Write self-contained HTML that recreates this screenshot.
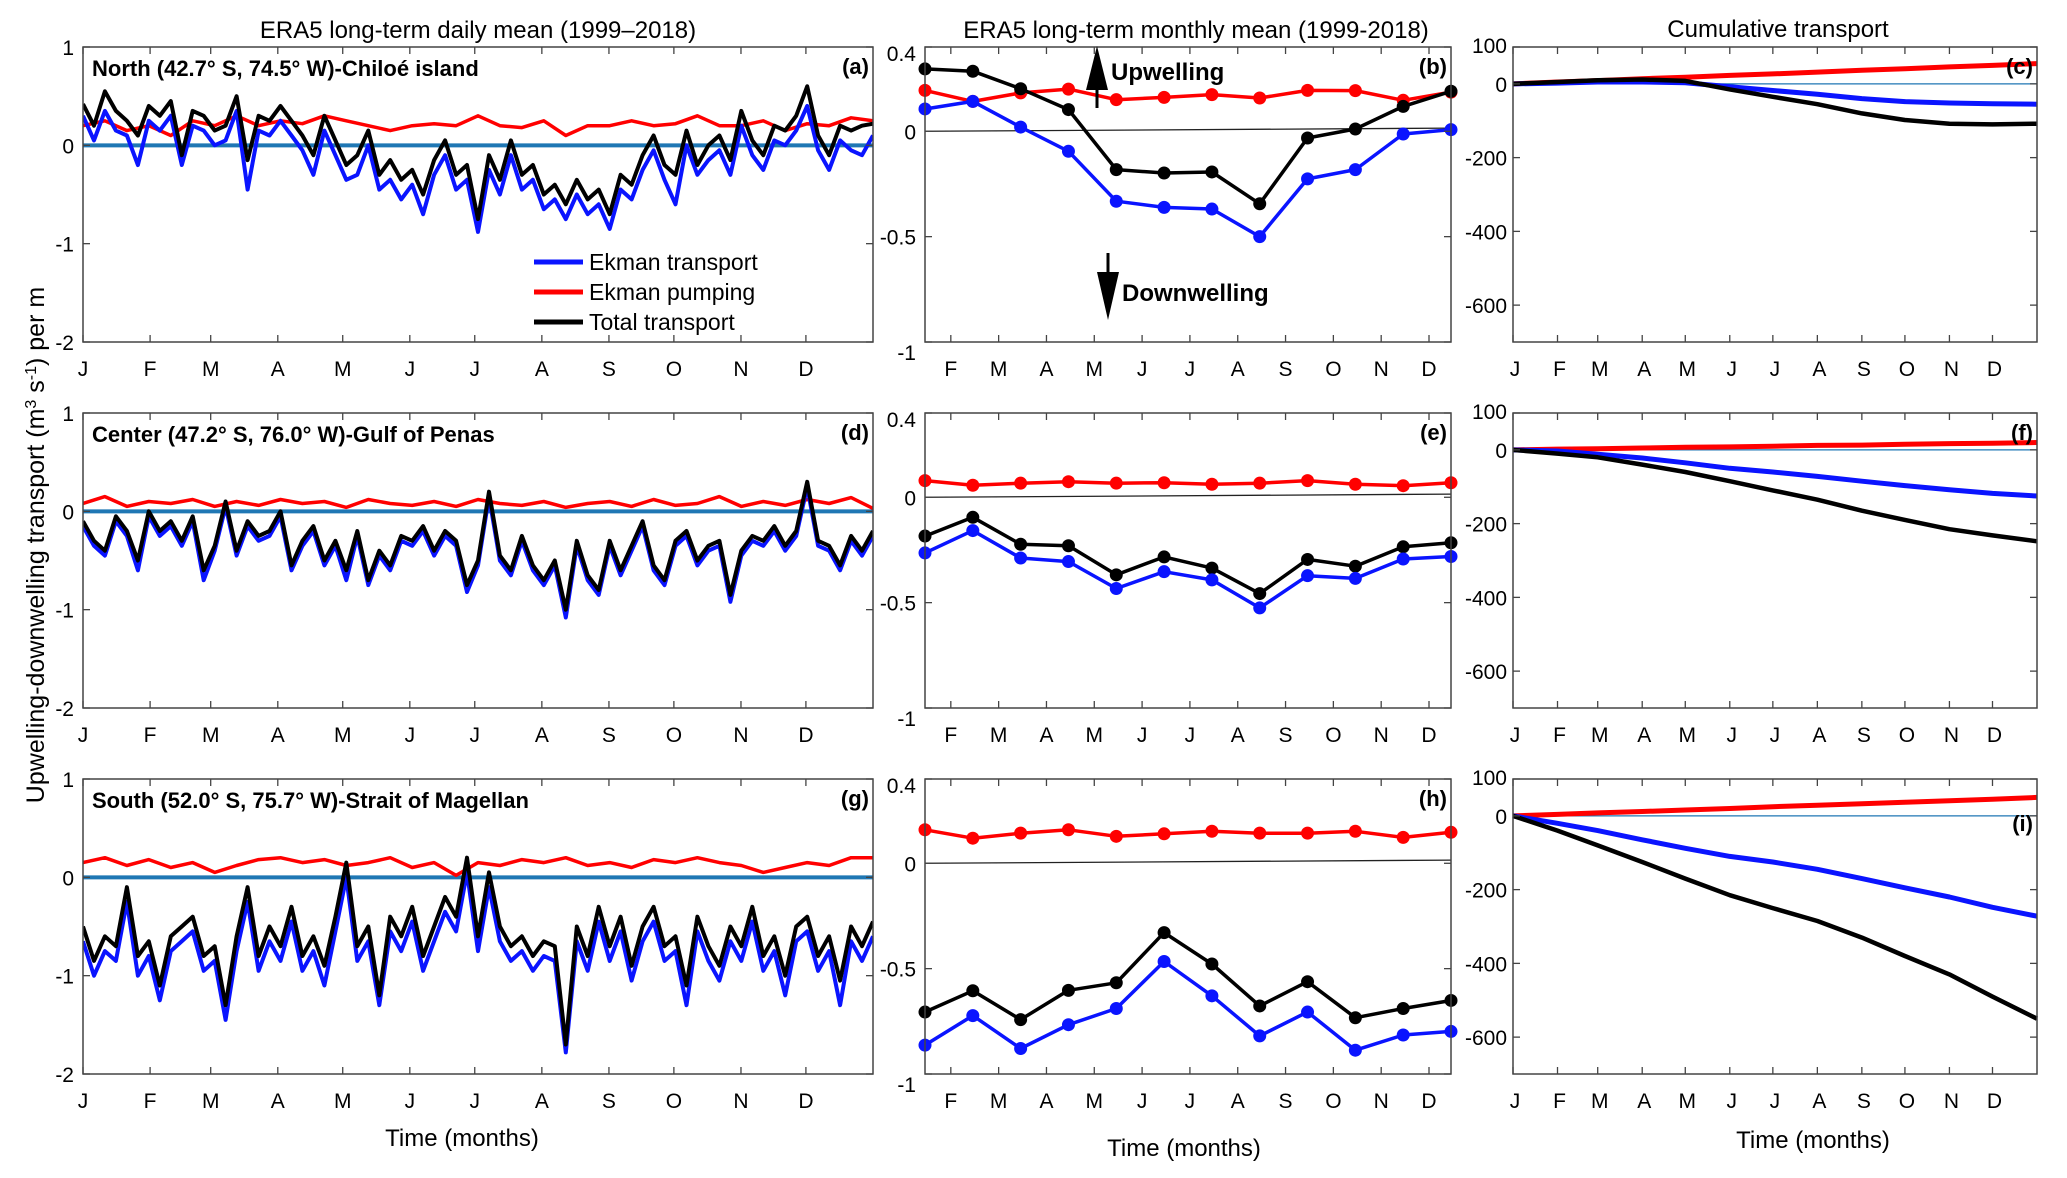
<!DOCTYPE html>
<html><head><meta charset="utf-8"><style>
html,body{margin:0;padding:0;background:#fff;}
svg{display:block;font-family:"Liberation Sans",Arial,sans-serif;}
</style></head><body>
<svg id="fig" xmlns="http://www.w3.org/2000/svg" width="2067" height="1178" viewBox="0 0 2067 1178">
<rect x="0" y="0" width="2067" height="1178" fill="#fff"/>
<text x="478" y="38" font-size="24" text-anchor="middle">ERA5 long-term daily mean (1999–2018)</text>
<text x="1196" y="38" font-size="24" text-anchor="middle">ERA5 long-term  monthly mean (1999-2018)</text>
<text x="1778" y="37" font-size="24" text-anchor="middle">Cumulative transport</text>
<text transform="translate(44,545) rotate(-90)" font-size="25" text-anchor="middle">Upwelling-downwelling transport (m<tspan baseline-shift="super" font-size="16">3</tspan> s<tspan baseline-shift="super" font-size="16">-1</tspan>) per m</text>
<text x="462" y="1146" font-size="24" text-anchor="middle">Time (months)</text>
<text x="1184" y="1156" font-size="24" text-anchor="middle">Time (months)</text>
<text x="1813" y="1148" font-size="24" text-anchor="middle">Time (months)</text>
<g id="plots"></g>
<g>
<line x1="534" y1="262" x2="583" y2="262" stroke="#0a14ff" stroke-width="5"/>
<text x="589" y="270" font-size="23">Ekman transport</text>
<line x1="534" y1="292" x2="583" y2="292" stroke="#ff0000" stroke-width="5"/>
<text x="589" y="300" font-size="23">Ekman pumping</text>
<line x1="534" y1="322" x2="583" y2="322" stroke="#000" stroke-width="5"/>
<text x="589" y="330" font-size="23">Total transport</text>
</g>
<g>
<line x1="1097" y1="80" x2="1097" y2="108" stroke="#000" stroke-width="3"/>
<polygon points="1097,46 1086,90 1108,90" fill="#000"/>
<text x="1111" y="80" font-size="24" font-weight="bold">Upwelling</text>
</g>
<g>
<line x1="1108" y1="253" x2="1108" y2="280" stroke="#000" stroke-width="3"/>
<polygon points="1108,320 1097,272 1119,272" fill="#000"/>
<text x="1122" y="301" font-size="24" font-weight="bold">Downwelling</text>
</g>
</svg>
<script>
// ---- daily series (5-day sampling for transport, 10-day for pumping) ----
const blackA = [0.42,0.2,0.55,0.35,0.25,0.1,0.4,0.3,0.45,-0.1,0.35,0.3,0.15,0.2,0.5,-0.15,0.3,0.25,0.4,0.25,0.1,-0.1,0.3,0.05,-0.2,-0.1,0.15,-0.3,-0.15,-0.35,-0.25,-0.5,-0.15,0.05,-0.3,-0.2,-0.75,-0.1,-0.35,0.05,-0.3,-0.2,-0.5,-0.4,-0.6,-0.35,-0.55,-0.45,-0.7,-0.3,-0.4,-0.1,0.1,-0.2,-0.3,0.15,-0.2,0.0,0.1,-0.15,0.35,0.05,-0.1,0.2,0.15,0.3,0.6,0.1,-0.1,0.2,0.15,0.2,0.22];
const blueA = [0.3,0.05,0.35,0.15,0.1,-0.2,0.25,0.15,0.3,-0.2,0.2,0.15,0.0,0.05,0.35,-0.45,0.15,0.1,0.25,0.1,-0.05,-0.3,0.15,-0.1,-0.35,-0.3,0.0,-0.45,-0.35,-0.55,-0.4,-0.7,-0.3,-0.1,-0.45,-0.35,-0.88,-0.25,-0.5,-0.1,-0.45,-0.35,-0.65,-0.55,-0.75,-0.5,-0.7,-0.6,-0.85,-0.45,-0.55,-0.25,-0.05,-0.35,-0.6,0.0,-0.3,-0.15,-0.05,-0.3,0.2,-0.1,-0.25,0.05,0.0,0.15,0.4,-0.05,-0.25,0.05,-0.05,-0.1,0.1];
const redA = [0.2,0.25,0.15,0.2,0.1,0.25,0.2,0.3,0.2,0.25,0.22,0.3,0.25,0.2,0.15,0.2,0.22,0.2,0.3,0.2,0.18,0.25,0.1,0.2,0.2,0.25,0.2,0.22,0.3,0.2,0.2,0.25,0.15,0.22,0.2,0.28,0.25];
const blackD = [-0.1,-0.3,-0.4,-0.05,-0.2,-0.5,0.0,-0.2,-0.1,-0.3,-0.05,-0.6,-0.35,0.1,-0.4,-0.1,-0.25,-0.2,0.0,-0.55,-0.3,-0.15,-0.5,-0.3,-0.6,-0.2,-0.7,-0.4,-0.55,-0.25,-0.3,-0.15,-0.4,-0.2,-0.3,-0.75,-0.5,0.2,-0.45,-0.6,-0.25,-0.55,-0.7,-0.5,-1.0,-0.3,-0.65,-0.8,-0.3,-0.6,-0.35,-0.1,-0.55,-0.7,-0.3,-0.2,-0.5,-0.35,-0.3,-0.85,-0.4,-0.25,-0.3,-0.15,-0.35,-0.2,0.3,-0.3,-0.35,-0.55,-0.25,-0.4,-0.2];
const blueD = [-0.15,-0.35,-0.45,-0.1,-0.25,-0.6,-0.05,-0.25,-0.15,-0.35,-0.1,-0.7,-0.4,0.05,-0.45,-0.15,-0.3,-0.25,-0.05,-0.6,-0.35,-0.2,-0.55,-0.35,-0.7,-0.25,-0.75,-0.45,-0.6,-0.3,-0.35,-0.2,-0.45,-0.25,-0.35,-0.82,-0.55,0.15,-0.5,-0.65,-0.3,-0.6,-0.75,-0.55,-1.08,-0.35,-0.7,-0.85,-0.35,-0.65,-0.4,-0.15,-0.6,-0.75,-0.35,-0.25,-0.55,-0.4,-0.35,-0.92,-0.45,-0.3,-0.35,-0.2,-0.4,-0.25,0.25,-0.35,-0.4,-0.6,-0.3,-0.45,-0.25];
const redD = [0.08,0.15,0.05,0.1,0.08,0.12,0.05,0.1,0.06,0.12,0.08,0.1,0.04,0.12,0.08,0.06,0.1,0.05,0.12,0.08,0.06,0.1,0.04,0.08,0.1,0.05,0.12,0.06,0.08,0.15,0.05,0.1,0.06,0.12,0.08,0.14,0.03];
const blackG = [-0.5,-0.85,-0.6,-0.7,-0.1,-0.8,-0.65,-1.1,-0.6,-0.5,-0.4,-0.8,-0.7,-1.3,-0.6,-0.1,-0.8,-0.5,-0.7,-0.3,-0.8,-0.6,-0.9,-0.4,0.15,-0.7,-0.5,-1.2,-0.4,-0.6,-0.3,-0.8,-0.5,-0.2,-0.4,0.2,-0.6,0.05,-0.5,-0.7,-0.6,-0.8,-0.65,-0.7,-1.7,-0.5,-0.8,-0.3,-0.7,-0.4,-0.9,-0.5,-0.3,-0.7,-0.6,-1.1,-0.4,-0.7,-0.9,-0.5,-0.7,-0.3,-0.8,-0.6,-1.0,-0.5,-0.4,-0.8,-0.6,-1.05,-0.5,-0.7,-0.45];
const blueG = [-0.65,-1.0,-0.75,-0.85,-0.25,-1.0,-0.8,-1.25,-0.75,-0.65,-0.55,-0.95,-0.85,-1.45,-0.75,-0.25,-0.95,-0.65,-0.85,-0.45,-0.95,-0.75,-1.1,-0.55,0.0,-0.85,-0.65,-1.3,-0.55,-0.75,-0.45,-0.95,-0.65,-0.35,-0.55,0.05,-0.75,-0.1,-0.65,-0.85,-0.75,-0.95,-0.8,-0.85,-1.78,-0.65,-0.95,-0.45,-0.85,-0.55,-1.05,-0.65,-0.45,-0.85,-0.75,-1.3,-0.55,-0.85,-1.05,-0.65,-0.85,-0.45,-0.95,-0.75,-1.2,-0.65,-0.55,-0.95,-0.75,-1.3,-0.65,-0.85,-0.6];
const redG = [0.15,0.2,0.12,0.18,0.1,0.15,0.05,0.12,0.18,0.2,0.15,0.18,0.12,0.15,0.2,0.1,0.15,0.02,0.15,0.12,0.18,0.15,0.2,0.12,0.15,0.1,0.18,0.15,0.2,0.15,0.12,0.05,0.1,0.15,0.12,0.2,0.2];
// ---- monthly means ----
const redB = [0.194,0.142,0.182,0.2,0.15,0.161,0.174,0.158,0.194,0.193,0.147,0.186];
const blackB = [0.296,0.285,0.202,0.103,-0.182,-0.198,-0.193,-0.344,-0.032,0.011,0.118,0.19];
const blueB = [0.106,0.142,0.02,-0.095,-0.332,-0.361,-0.369,-0.5,-0.226,-0.182,-0.013,0.008];
const redE = [0.079,0.057,0.067,0.074,0.067,0.069,0.062,0.067,0.079,0.062,0.055,0.069];
const blackE = [-0.184,-0.095,-0.223,-0.23,-0.368,-0.283,-0.336,-0.457,-0.295,-0.327,-0.235,-0.216];
const blueE = [-0.264,-0.158,-0.288,-0.305,-0.433,-0.353,-0.392,-0.525,-0.372,-0.385,-0.293,-0.281];
const redH = [0.159,0.119,0.143,0.159,0.128,0.14,0.152,0.143,0.143,0.152,0.123,0.147];
const blackH = [-0.706,-0.605,-0.742,-0.603,-0.567,-0.329,-0.478,-0.677,-0.562,-0.733,-0.689,-0.651];
const blueH = [-0.863,-0.723,-0.879,-0.766,-0.689,-0.466,-0.629,-0.819,-0.706,-0.887,-0.815,-0.798];
const refLineB = [0.0,0.015];
// ---- cumulative transport at month boundaries (days 0..365) ----
const cumDays = [0,31,59,90,120,151,181,212,243,273,304,334,365];
const redC = [0,5,9,14,18,23,27,32,37,41,46,50,55];
const blueC = [0,2,5,5,3,-8,-18,-28,-40,-48,-52,-54,-55];
const blackC = [0,5,10,12,8,-15,-35,-55,-80,-98,-108,-110,-108];
const redF = [0,2,3,5,7,8,10,12,13,15,17,18,20];
const blueF = [0,-3,-12,-22,-35,-50,-60,-72,-85,-97,-108,-118,-125];
const blackF = [0,-10,-20,-40,-60,-85,-110,-135,-165,-190,-215,-232,-248];
const redI = [0,4,8,12,16,20,25,29,33,37,41,45,50];
const blueI = [0,-20,-40,-65,-88,-110,-125,-145,-170,-195,-220,-248,-272];
const blackI = [0,-40,-80,-125,-170,-215,-250,-285,-330,-380,-430,-490,-550];
// ---- tick labels ----
const monthLabels = ['J','F','M','A','M','J','J','A','S','O','N','D'];
const monthStarts = [0,31,59,90,120,151,181,212,243,273,304,334];
const dailyYTicks = [1,0,-1,-2];
const monthlyYTicks = [0.4,0,-0.5,-1];
const monthlyYTickLabels = ['0.4','0','-0.5','-1'];
const cumYTicks = [100,0,-200,-400,-600];

const NS='http://www.w3.org/2000/svg';
const root=document.getElementById('plots');
function mk(tag,attrs,parent){const e=document.createElementNS(NS,tag);for(const k in attrs)e.setAttribute(k,attrs[k]);(parent||root).appendChild(e);return e;}
const BLUE='#0a14ff',RED='#ff0000',BLACK='#000000',ZBLUE='#1f77b4';
const cols={daily:{x:83,w:790},monthly:{x:925,w:526},cum:{x:1513,w:524}};
const rowsTop=[47,413,779];const H=295;

function frame(g,x,y,w,h,name){
  const r=mk('rect',{x:x,y:y,width:w,height:h,fill:'none',stroke:'#444','stroke-width':1.5},g);
  
  
}
function tickX(g,px,y,h){mk('line',{x1:px,y1:y+h,x2:px,y2:y+h-7,stroke:'#444','stroke-width':1.3},g);mk('line',{x1:px,y1:y,x2:px,y2:y+7,stroke:'#444','stroke-width':1.3},g);}
function tickY(g,x,w,py){mk('line',{x1:x,y1:py,x2:x+7,y2:py,stroke:'#444','stroke-width':1.3},g);mk('line',{x1:x+w,y1:py,x2:x+w-7,y2:py,stroke:'#444','stroke-width':1.3},g);}
function label(g,x,y,txt,anchor,size,name){const t=mk('text',{x:x,y:y,'font-size':size||21,'text-anchor':anchor||'middle'},g);t.textContent=txt;return t;}
function poly(g,pts,color,width,name){const p=mk('polyline',{points:pts.map(q=>q[0].toFixed(1)+','+q[1].toFixed(1)).join(' '),fill:'none',stroke:color,'stroke-width':width,'stroke-linejoin':'round'},g);return p;}

function dailyPanel(r,title,letter,blk,blu,red){
  const X=cols.daily.x,W=cols.daily.w,Y=rowsTop[r];
  const g=mk('g',{});
  
  
  const xs=d=>X+d/365*W, ys=v=>Y+(1-v)/3*H;
  const cp=mk('clipPath',{id:'cl'+letter},g);mk('rect',{x:X,y:Y,width:W,height:H},cp);
  const inner=mk('g',{'clip-path':'url(#cl'+letter+')'},g);
  const z=mk('line',{x1:X,y1:ys(0),x2:X+W,y2:ys(0),stroke:ZBLUE,'stroke-width':4},inner);
  
  
  poly(inner,red.map((v,i)=>[xs(i*365/(red.length-1)),ys(v)]),RED,3.5,'ekman-pumping-line');
  poly(inner,blu.map((v,i)=>[xs(i*365/(blu.length-1)),ys(v)]),BLUE,4,'ekman-transport-line');
  poly(inner,blk.map((v,i)=>[xs(i*365/(blk.length-1)),ys(v)]),BLACK,4,'total-transport-line');
  frame(g,X,Y,W,H,'daily-'+letter);
  monthStarts.forEach((d,i)=>{tickX(g,xs(d),Y,H);label(g,xs(d),Y+H+34,monthLabels[i],'middle',21,'x-tick-label');});
  dailyYTicks.forEach(v=>{tickY(g,X,W,ys(v));label(g,X-9,ys(v)+8,String(v),'end',21,'y-tick-label');});
  const t=label(g,X+9,Y+29,title,'start',22,'panel-title');t.setAttribute('font-weight','bold');
  const l=label(g,X+W-4,Y+27,'('+letter+')','end',22,'panel-letter');l.setAttribute('font-weight','bold');
}
dailyPanel(0,'North (42.7° S, 74.5° W)-Chiloé island','a',blackA,blueA,redA);
dailyPanel(1,'Center (47.2° S, 76.0° W)-Gulf of Penas','d',blackD,blueD,redD);
dailyPanel(2,'South (52.0° S, 75.7° W)-Strait of  Magellan','g',blackG,blueG,redG);

function monthlyPanel(r,letter,blk,blu,red){
  const X=cols.monthly.x,W=cols.monthly.w,Y=rowsTop[r];
  const g=mk('g',{});
  
  
  const xs=i=>X+i/11*W, ys=v=>Y+(0.4-v)/1.4*H;
  const zl=mk('line',{x1:xs(0),y1:ys(refLineB[0]),x2:xs(11),y2:ys(refLineB[1]),stroke:'#222','stroke-width':1.3},g);
  
  
  [[red,RED,'ekman-pumping'],[blk,BLACK,'total-transport'],[blu,BLUE,'ekman-transport']].forEach(s=>{
    poly(g,s[0].map((v,i)=>[xs(i),ys(v)]),s[1],3.5,s[2]+'-line');
    s[0].forEach((v,i)=>{const c=mk('circle',{cx:xs(i),cy:ys(v),r:6.5,fill:s[1]},g);
      
      });
  });
  frame(g,X,Y,W,H,'monthly-'+letter);
  for(let i=1;i<12;i++){const px=xs(i-1+0.54);tickX(g,px,Y,H);label(g,px,Y+H+34,monthLabels[i],'middle',21,'x-tick-label');}
  monthlyYTicks.forEach((v,k)=>{tickY(g,X,W,ys(v));label(g,X-9,ys(v)+(k===0?14:(k===3?18:8)),monthlyYTickLabels[k],'end',21,'y-tick-label');});
  const l=label(g,X+W-4,Y+27,'('+letter+')','end',22,'panel-letter');l.setAttribute('font-weight','bold');
}
monthlyPanel(0,'b',blackB,blueB,redB);
monthlyPanel(1,'e',blackE,blueE,redE);
monthlyPanel(2,'h',blackH,blueH,redH);

function cumPanel(r,letter,blk,blu,red,letterY){
  const X=cols.cum.x,W=cols.cum.w,Y=rowsTop[r];
  const g=mk('g',{});
  
  
  const xs=d=>X+d/365*W, ys=v=>Y+(100-v)/800*H;
  const zl=mk('line',{x1:X,y1:ys(0),x2:X+W,y2:ys(0),stroke:ZBLUE,'stroke-width':1.3},g);
  
  
  poly(g,red.map((v,i)=>[xs(cumDays[i]),ys(v)]),RED,5,'ekman-pumping-cumulative');
  poly(g,blu.map((v,i)=>[xs(cumDays[i]),ys(v)]),BLUE,5,'ekman-transport-cumulative');
  poly(g,blk.map((v,i)=>[xs(cumDays[i]),ys(v)]),BLACK,4.5,'total-transport-cumulative');
  frame(g,X,Y,W,H,'cumulative-'+letter);
  monthStarts.forEach((d,i)=>{tickX(g,xs(d),Y,H);label(g,xs(d)+2,Y+H+34,monthLabels[i],'middle',21,'x-tick-label');});
  cumYTicks.forEach((v,k)=>{tickY(g,X,W,ys(v));label(g,X-6,ys(v)+(k===0?6:8),String(v),'end',21,'y-tick-label');});
  const l=label(g,X+W-4,Y+letterY,'('+letter+')','end',22,'panel-letter');l.setAttribute('font-weight','bold');
}
cumPanel(0,'c',blackC,blueC,redC,27);
cumPanel(1,'f',blackF,blueF,redF,27);
cumPanel(2,'i',blackI,blueI,redI,52);
</script>
</body></html>
